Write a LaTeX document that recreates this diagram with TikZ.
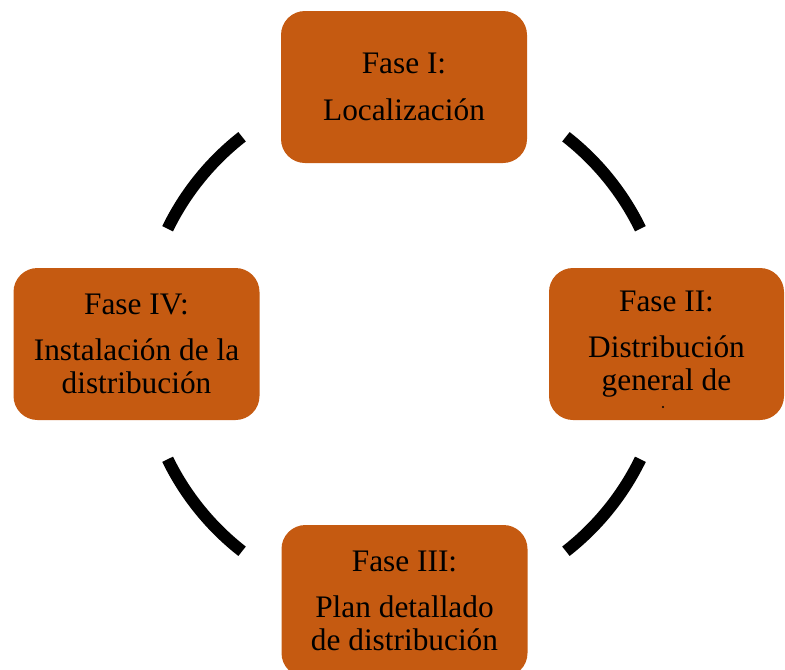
\documentclass[tikz,border=0pt]{standalone}
\usepackage{fontspec}
\setmainfont{Liberation Serif}
\usetikzlibrary{calc}
\definecolor{fase}{HTML}{C55A11}
\tikzset{
  fasebox/.style={fill=fase, rounded corners=18pt, inner sep=0pt,
    minimum width=184.5pt, minimum height=114pt, align=center,
    font=\fontsize{23.5}{24.75}\selectfont},
  ring/.style={line width=9pt, black}
}
\begin{document}
\begin{tikzpicture}[x=0.75pt,y=-0.75pt]
                \def\rad{263};
                \def\da{26};
                \useasboundingbox (0,0) rectangle (785,669);
                \begin{scope}
                \clip (0,0) rectangle (785,669);
                \coordinate (c) at (404,344);
                \node[fasebox] (f1) at (404,87) {Fase I:\\[10pt]Localización};
                \node[fasebox, minimum width=176.25pt] (f2) at (666.5,344) {Fase II:\\[10pt]Distribución\\general de};
                \node[fasebox] (f3) at (404.5,601) {Fase III:\\[10pt]Plan detallado\\de distribución};
                \node[fasebox] (f4) at (136.5,344) {Fase IV:\\[10pt]Instalación de la\\distribución};
                \fill (663,407) circle (1.2);
                \foreach \a in {26,128,206,308}{
                    \draw[ring] ($(c)+(\a:\rad)$) arc (\a:\a+\da:\rad);}
                \end{scope}
            \end{tikzpicture}
\end{document}
